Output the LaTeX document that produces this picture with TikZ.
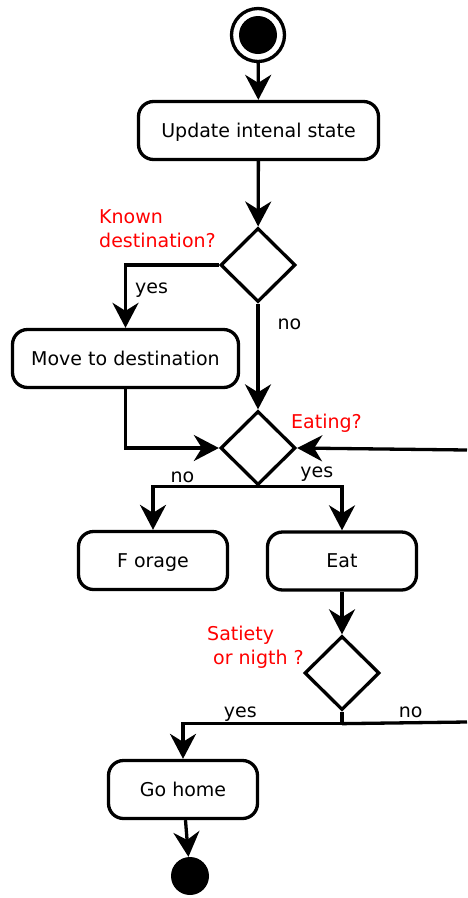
\documentclass[tikz,border=0pt]{standalone}
\usepackage{fontspec}
\setmainfont{DejaVu Sans}
\usetikzlibrary{shapes.geometric, arrows.meta}

\tikzset{
	txt/.style={font=\fontsize{19}{24}\selectfont},
	act/.style={txt, draw, line width=3.3pt, rectangle, rounded corners=15pt, minimum height=58pt, inner sep=0pt, text height=15pt, text depth=2pt},
	choice/.style={draw, line width=3.3pt, diamond, minimum width=75pt, minimum height=74pt, inner sep=0pt},
	cond/.style={txt, text=red, align=left, inner sep=0pt},
	lbl/.style={txt, inner sep=2pt},
	flow/.style={draw, line width=3.3pt, -{Stealth[length=25pt, width=26pt, inset=8pt]}},
	wire/.style={draw, line width=3.3pt}
}

\begin{document}
\begin{tikzpicture}[x=1pt,y=-1pt]
	\useasboundingbox (0,0) rectangle (467,898);

	\node[circle, draw, line width=3.3pt, minimum size=53pt, inner sep=0pt,
	      path picture={\fill (path picture bounding box.center) circle (19pt);}] (start) at (258,35) {};
	\node[act, minimum width=240pt] (upd) at (258.5,130.5) {Update intenal state};
	\node[choice] (known) at (258,265) {};
	\node[cond, anchor=west] (knownq) at (99,229) {Known\\destination?};
	\node[act, minimum width=226pt] (move) at (125.5,358.5) {Move to destination};
	\node[choice] (eating) at (258,448) {};
	\node[cond, anchor=west] (eatingq) at (291,423) {Eating?};
	\node[act, minimum width=149pt] (forage) at (153,560.5) {F orage};
	\node[act, minimum width=149pt] (eat) at (342,561) {Eat};
	\node[choice] (sat) at (342,673) {};
	\node[cond, anchor=west] (satq) at (207,647) {Satiety\\\ or nigth ?};
	\node[act, minimum width=149pt] (home) at (183,789.5) {Go home};
	\node[circle, fill, minimum size=38pt, inner sep=0pt] (stop) at (190,876) {};

	\coordinate (eatback) at (467,450);
	\coordinate (satout) at (467,722);

	\draw[flow] (start) -- (upd);
	\draw[flow] (upd) -- (known);
	\draw[flow] (known.west) -| node[lbl, pos=0.7, right=6pt] {yes} (move.north);
	\draw[flow] (known.south) -- node[lbl, pos=0.2, right=16pt] {no} (eating.north);
	\draw[flow] (move.south) |- (eating.west);
	\draw[flow] (eatback) -- (eating.east);
	\draw[flow] (eating.south) -| node[lbl, pos=0.36, above] {no} (forage.north);
	\draw[flow] (eating.south) -| node[lbl, pos=0.35, above=2pt] {yes} (eat.north);
	\draw[flow] (eat) -- (sat);
	\draw[wire] (sat.south) -- ++(0,12) coordinate (satsplit);
	\draw[flow] (satsplit) -| node[lbl, pos=0.32, above=-1pt] {yes} (home.north);
	\draw[wire] (satsplit) -- node[lbl, pos=0.55, above=1pt] {no} (satout);
	\draw[flow] (home) -- (stop);
\end{tikzpicture}
\end{document}
